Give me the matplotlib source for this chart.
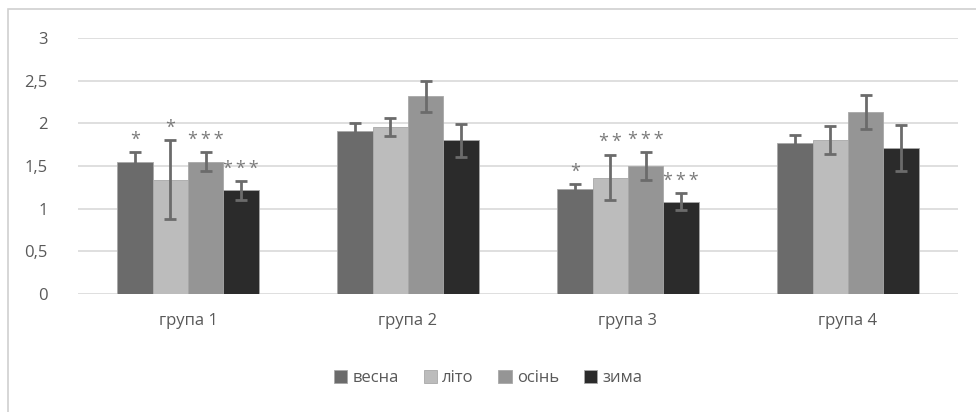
import numpy as np
import matplotlib.pyplot as plt
from matplotlib.patches import Rectangle

plt.rcParams['font.family'] = ['Open Sans', 'DejaVu Sans']

groups = ['група 1', 'група 2', 'група 3', 'група 4']
seasons = ['весна', 'літо', 'осінь', 'зима']
colors = ['#6b6b6b', '#bcbcbc', '#959595', '#2b2b2b']

# mean values per season, one list per season (groups 1..4)
vesna = [1.55, 1.905, 1.23, 1.775]
lito = [1.34, 1.955, 1.365, 1.80]
osin = [1.55, 2.315, 1.50, 2.13]
zyma = [1.215, 1.80, 1.08, 1.715]

err_vesna = [0.11, 0.095, 0.06, 0.085]
err_lito = [0.46, 0.105, 0.265, 0.165]
err_osin = [0.11, 0.18, 0.165, 0.20]
err_zyma = [0.11, 0.19, 0.10, 0.27]

# significance marks (number of asterisks)
stars_vesna = [1, 0, 1, 0]
stars_lito = [1, 0, 2, 0]
stars_osin = [3, 0, 3, 0]
stars_zyma = [3, 0, 3, 0]

values = [vesna, lito, osin, zyma]
errors = [err_vesna, err_lito, err_osin, err_zyma]
stars = [stars_vesna, stars_lito, stars_osin, stars_zyma]

fig = plt.figure(figsize=(9.76, 4.12), dpi=100)
ax = fig.add_axes([78/976, 1-294/412, 880/976, 256/412])

# outer chart border (only top/left visible)
fig.patches.append(Rectangle((8/976, -0.1), 1.1, 1-9/412+0.1, transform=fig.transFigure,
                             fill=False, edgecolor='#d0d0d0', linewidth=1.2))

x = np.arange(len(groups))
w = 0.161
for i, s in enumerate(seasons):
    pos = x + (i - 1.5) * w
    ax.bar(pos, values[i], w, color=colors[i], edgecolor='#a8a8a8', linewidth=0.6,
           label=s, zorder=2)
    ax.errorbar(pos, values[i], yerr=errors[i], fmt='none', ecolor='#6b6b6b',
                elinewidth=2, capsize=4.5, capthick=2, zorder=3)
    for j in range(len(groups)):
        if stars[i][j]:
            ax.text(pos[j], values[i][j] + errors[i][j] + 0.04,
                    '\u2009'.join(['*'] * stars[i][j]),
                    ha='center', va='bottom', fontsize=13, color='#7a7a7a')

ax.set_xlim(-0.5, 3.5)
ax.set_ylim(0, 3)
ax.set_yticks(np.arange(0, 3.01, 0.5))
ax.set_yticklabels(['0', '0,5', '1', '1,5', '2', '2,5', '3'])
ax.set_xticks(x)
ax.set_xticklabels(groups)
ax.tick_params(axis='both', length=0, labelsize=12, colors='#595959')
ax.tick_params(axis='y', pad=22)
ax.tick_params(axis='x', pad=14)
ax.grid(axis='y', color='#d9d9d9', linewidth=1.2, zorder=0)
ax.set_axisbelow(True)
for sp in ax.spines.values():
    sp.set_visible(False)

leg = fig.legend(loc='center', bbox_to_anchor=(0.5, 1-378/412), ncol=4, frameon=False,
                 fontsize=12, handlelength=0.8, handleheight=0.8, handletextpad=0.3,
                 columnspacing=1.5, labelcolor='#595959')

fig.savefig('out.png', dpi=100)
